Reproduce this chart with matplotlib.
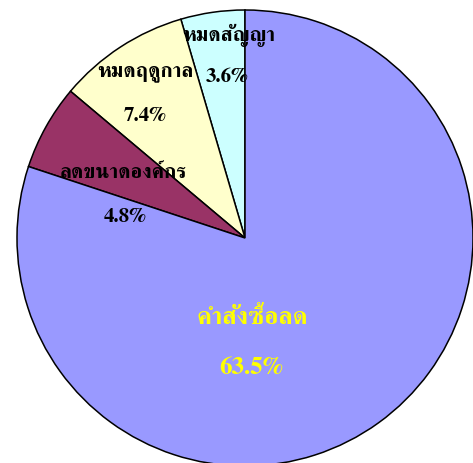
import matplotlib
matplotlib.use("Agg")
import matplotlib.pyplot as plt

labels = ["หมดสัญญา", "หมดฤดูกาล", "ลดขนาดองค์กร", "คำสั่งซื้อลด"]
values = [3.6, 7.4, 4.8, 63.5]
colors = ["#CCFFFF", "#FFFFCC", "#993366", "#9999FF"]
text_colors = ["black", "black", "black", "#FFFF00"]
text_sizes = [15, 15, 15, 18]
# label / percent positions in pie coordinates (radius 1)
name_pos = [(-0.070, 0.890), (-0.439, 0.724), (-0.533, 0.285), (0.031, -0.351)]
pct_pos = [(-0.079, 0.706), (-0.439, 0.537), (-0.526, 0.092), (0.026, -0.570)]

fonts = ["FreeSerif", "Taviraj", "DejaVu Serif"]

fig = plt.figure(figsize=(4.73, 4.63), dpi=100)
ax = fig.add_axes([17 / 473, -3 / 463, 456 / 473, 456 / 463])
ax.pie(values, colors=colors, startangle=90, counterclock=True,
       wedgeprops=dict(edgecolor="black", linewidth=1.1))
ax.set_xlim(-1, 1)
ax.set_ylim(-1, 1)

for lab, v, c, s, p1, p2 in zip(labels, values, text_colors, text_sizes, name_pos, pct_pos):
    ax.text(p1[0], p1[1], lab, ha="center", va="center", color=c,
            fontsize=s, fontweight="bold", family=fonts)
    ax.text(p2[0], p2[1], f"{v}%", ha="center", va="center", color=c,
            fontsize=s, fontweight="bold", family=fonts)

fig.savefig("out.png")
